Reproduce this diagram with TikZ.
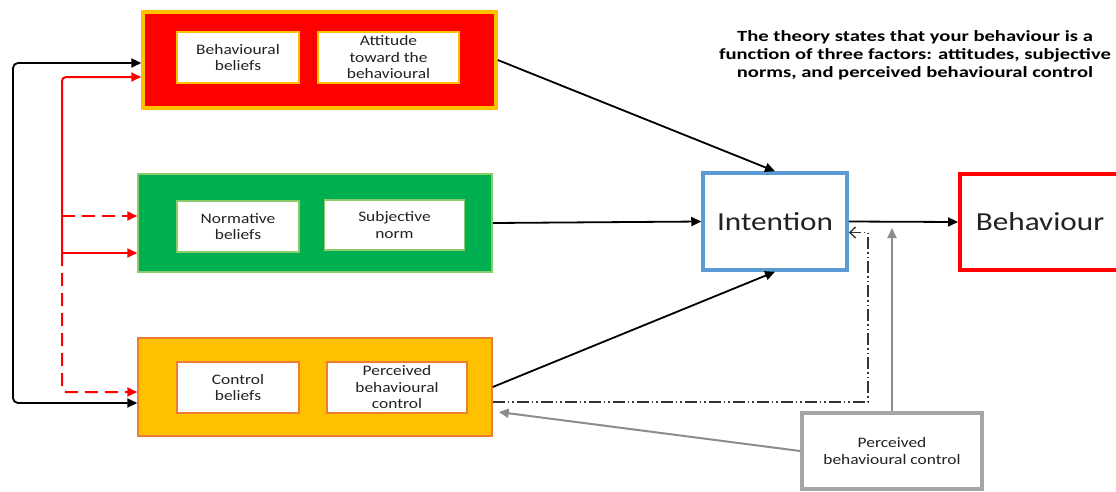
\documentclass[tikz,border=0pt]{standalone}
\usepackage{fontspec}
\setmainfont{Carlito}[FakeStretch=1.2]
\newfontfamily\notefont{Carlito}[FakeStretch=1.32]
\usetikzlibrary{arrows.meta}
\definecolor{boxred}{HTML}{FF0000}
\definecolor{gold}{HTML}{FFC000}
\definecolor{boxgreen}{HTML}{00B050}
\definecolor{paleGreen}{HTML}{8CCB6A}
\definecolor{deeporange}{HTML}{ED7D31}
\definecolor{intblue}{HTML}{5B9BD5}
\definecolor{boxgray}{HTML}{A6A6A6}
\definecolor{arrgray}{HTML}{8C8C8C}
\definecolor{txt}{HTML}{222222}
\tikzset{
  panel/.style={rectangle, inner sep=0pt},
  inbox/.style={rectangle, fill=white, inner sep=2pt, align=center, text=txt,
    font=\fontsize{14.5}{16.5}\selectfont},
  bigbox/.style={rectangle, fill=white, inner sep=0pt, text=txt,
    font=\fontsize{26}{30}\selectfont},
  blk/.style={draw=black, line width=1.8pt, -{Triangle[length=10pt,width=9pt]}},
  redln/.style={draw=boxred, line width=2pt, -{Triangle[length=10pt,width=9pt]}},
  reddash/.style={redln, dash pattern=on 13pt off 7pt},
  dashdotdot/.style={draw=black!80, line width=1.3pt,
    dash pattern=on 12pt off 3pt on 1.5pt off 3pt on 1.5pt off 3pt},
  grayarr/.style={draw=arrgray, line width=2pt, -{Triangle[length=10pt,width=9pt]}},
}
\begin{document}
\begin{tikzpicture}[x=1pt, y=-1pt]
\useasboundingbox (0,0) rectangle (1116,491);
\clip (0,0) rectangle (1116,491);

% three factor panels
\node[panel, fill=boxred, draw=gold, line width=3.5pt,
      minimum width=353pt, minimum height=96pt] (red) at (319.5,60) {};
\node[panel, fill=boxgreen, draw=paleGreen, line width=1.5pt,
      minimum width=354pt, minimum height=98pt] (green) at (315,223) {};
\node[panel, fill=gold, draw=deeporange, line width=1.5pt,
      minimum width=354pt, minimum height=98pt] (orange) at (315,387) {};

% inner boxes
\node[inbox, draw=gold, line width=1.5pt, minimum width=122pt, minimum height=51pt]
  (bb) at (238,57.5) {Behavioural\\beliefs};
\node[inbox, draw=gold, line width=1.5pt, minimum width=141pt, minimum height=51pt]
  (att) at (388.5,57.5) {Attitude\\toward the\\behavioural};
\node[inbox, draw=paleGreen, line width=1.5pt, minimum width=122pt, minimum height=51pt]
  (nb) at (238,226.5) {Normative\\beliefs};
\node[inbox, draw=paleGreen, line width=1.5pt, minimum width=140pt, minimum height=50pt]
  (sn) at (394.5,225) {Subjective\\norm};
\node[inbox, draw=deeporange, line width=1.5pt, minimum width=122pt, minimum height=51pt]
  (cb) at (238,387.5) {Control\\beliefs};
\node[inbox, draw=deeporange, line width=1.5pt, minimum width=140pt, minimum height=51pt]
  (pbcin) at (397,387.5) {Perceived\\behavioural\\control};

% intention and behaviour
\node[bigbox, draw=intblue, line width=3.5pt, minimum width=144pt, minimum height=97pt]
  (intent) at (775,221.5) {Intention};
\node[bigbox, draw=boxred, line width=4pt, minimum width=160pt, minimum height=96pt]
  (beh) at (1040,222) {Behaviour};

% perceived behavioural control (actual)
\node[inbox, draw=boxgray, line width=3.5pt, minimum width=180pt, minimum height=76pt]
  (pbc) at (892,451) {Perceived\\behavioural control};

% statement
\node[align=center, text=black, font=\notefont\bfseries\fontsize{15.6}{18}\selectfont]
  (note) at (915,55) {The theory states that your behaviour is a\\
  function of three factors: attitudes, subjective\\
  norms, and perceived behavioural control};

% feedback loops on the left
\coordinate (lb) at (13,230);
\coordinate (rj) at (62,253);
\coordinate (rd) at (62,216);
\draw[blk, {Triangle[length=10pt,width=9pt]}-{Triangle[length=10pt,width=9pt]}, rounded corners=5pt]
  ([yshift=-3pt]red.west) -| (lb) |- ([yshift=-16pt]orange.west);
\draw[redln, rounded corners=4pt] (rj) |- ([yshift=-17pt]red.west);
\draw[redln] (rj) -- ([yshift=-30pt]green.west);
\draw[reddash] (rd) -- ([yshift=7pt]green.west);
\draw[reddash, rounded corners=4pt] (rj) |- ([yshift=-5pt]orange.west);

% paths into intention
\draw[blk] (red.east) -- (intent.north);
\draw[blk] (green.east) -- (intent.west);
\draw[blk] (orange.east) -- (intent.south);
\draw[blk] (intent.east) -- (beh.west);

% perceived control feedback
\coordinate (dd) at (868,300);
\draw[dashdotdot, -{Straight Barb[length=6pt,width=11pt]}]
  ([yshift=-15pt]orange.east) -| (dd) |- ([yshift=-11pt]intent.east);
\coordinate (gtip) at (892,228);
\draw[grayarr] (pbc.north) -- (gtip);
\draw[grayarr] (pbc.west) -- ([xshift=6pt,yshift=-25pt]orange.east);
\end{tikzpicture}
\end{document}
